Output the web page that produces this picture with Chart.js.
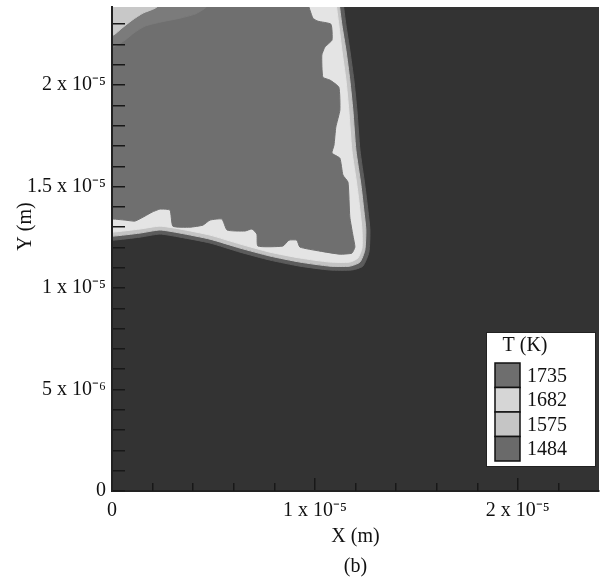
<!DOCTYPE html>
<html lang="en">
<head>
<meta charset="UTF-8">
<title>T (K) - (b)</title>
<script src="https://cdn.jsdelivr.net/npm/chart.js"></script>
<style>
  html, body { margin: 0; padding: 0; background: #ffffff; }
</style>
</head>
<body>
<canvas id="contour" width="608" height="581"></canvas>
<script>
// all coordinates in micrometres (1e-6 m)
var tempLevels = [1735, 1682, 1575, 1484];
var levelColors = ['#6e6e6e', '#d6d6d6', '#c5c5c5', '#6a6a6a'];

var xTickValues = [0, 10, 20];
var xTickLabels = ['0', '1 x 10\u207B\u2075', '2 x 10\u207B\u2075'];
var xMinorTicks = [2, 4, 6, 8, 12, 14, 16, 18, 22];
var yTickValues = [0, 5, 10, 15, 20];
var yTickLabels = ['0', '5 x 10\u207B\u2076', '1 x 10\u207B\u2075', '1.5 x 10\u207B\u2075', '2 x 10\u207B\u2075'];

// contour boundaries (x, y), each closed through the top-left corner
var outerFront = [[-1, 12.36], [0.05, 12.36], [1.38, 12.51], [2.36, 12.66], [3.35, 12.51], [4.83, 12.22],
  [6.31, 11.77], [7.78, 11.38], [9.26, 11.08], [10.74, 10.89], [11.82, 10.89], [12.36, 11.08], [12.66, 11.77],
  [12.71, 12.86], [12.61, 13.84], [12.46, 15.07], [12.22, 16.80], [12.07, 18.77], [11.92, 20.25], [11.72, 21.72],
  [11.53, 22.96], [11.38, 24.19], [11.38, 25], [-1, 25]];
var midFront = [[-1, 12.56], [0.05, 12.56], [1.38, 12.71], [2.36, 12.86], [3.35, 12.71], [4.83, 12.41],
  [6.31, 11.97], [7.78, 11.58], [9.26, 11.28], [10.74, 11.08], [11.72, 11.08], [12.22, 11.28], [12.46, 11.87],
  [12.51, 12.86], [12.41, 13.84], [12.27, 15.07], [12.02, 16.80], [11.87, 18.77], [11.72, 20.25], [11.53, 21.72],
  [11.33, 22.96], [11.18, 24.19], [11.18, 25], [-1, 25]];
var lightFront = [[-1, 12.76], [0.05, 12.76], [1.38, 12.91], [2.36, 13.05], [3.35, 12.91], [4.83, 12.61],
  [6.31, 12.17], [7.78, 11.77], [9.26, 11.48], [10.74, 11.28], [11.72, 11.28], [12.12, 11.48], [12.32, 11.97],
  [12.32, 12.86], [12.22, 13.84], [12.07, 15.07], [11.82, 16.80], [11.67, 18.77], [11.53, 20.25], [11.33, 21.72],
  [11.18, 22.96], [11.03, 24.19], [11.03, 25], [-1, 25]];
var coreFront = [[-1, 13.4], [0.05, 13.4], [0.64, 13.35], [1.13, 13.30], [1.63, 13.55], [1.97, 13.74],
  [2.36, 13.89], [2.86, 13.84], [3.00, 13.05], [3.84, 13.00], [4.48, 13.10], [4.83, 13.35], [5.42, 13.40],
  [5.67, 12.86], [6.55, 12.81], [6.90, 12.91], [7.14, 12.66], [7.19, 12.07], [8.42, 12.07], [8.72, 12.36],
  [9.11, 12.36], [9.26, 12.02], [10.25, 11.82], [11.23, 11.67], [11.82, 11.72], [11.97, 12.02], [11.87, 12.61],
  [11.72, 13.50], [11.63, 15.22], [11.38, 15.57], [11.23, 16.40], [10.84, 16.65], [10.94, 17.04], [11.03, 17.93],
  [11.23, 18.77], [11.18, 19.90], [10.74, 20.25], [10.39, 20.39], [10.34, 21.48], [10.49, 21.87], [10.84, 22.22],
  [10.79, 23.00], [10.15, 23.15], [9.90, 23.30], [9.61, 24.19], [9.61, 25], [-1, 25]];
var cornerMid = [[-1, 21.82], [0.05, 21.87], [0.64, 22.22], [1.13, 22.61], [1.63, 22.91], [2.36, 23.10],
  [3.35, 23.30], [4.09, 23.50], [4.58, 23.79], [4.93, 24.19], [5.02, 25], [-1, 25]];
var cornerLight = [[-1, 22.41], [0.05, 22.46], [0.49, 22.81], [0.99, 23.20], [1.53, 23.55], [2.12, 23.79],
  [2.61, 24.19], [2.76, 25], [-1, 25]];

var serif = "'Liberation Serif', 'Times New Roman', serif";

// top layer first
var bands = [
  { pts: cornerLight, color: '#c8c8c8', tension: 0.2 },
  { pts: cornerMid, color: '#7b7b7b', tension: 0.2 },
  { pts: coreFront, color: '#6f6f6f', tension: 0.15 },
  { pts: lightFront, color: '#e4e4e4', tension: 0.2 },
  { pts: midFront, color: '#c4c4c4', tension: 0.2 },
  { pts: outerFront, color: '#5c5c5c', tension: 0.2 }
];

var datasets = bands.map(function (b) {
  return {
    data: b.pts.map(function (p) { return { x: p[0], y: p[1] }; }),
    showLine: true,
    fill: 'shape',
    backgroundColor: b.color,
    borderColor: b.color,
    borderWidth: 1,
    pointRadius: 0,
    tension: b.tension
  };
});

var plotBackground = {
  id: 'plotBackground',
  beforeDatasetsDraw: function (chart) {
    var a = chart.chartArea, ctx = chart.ctx;
    ctx.save();
    ctx.fillStyle = '#333333';
    ctx.fillRect(a.left, a.top, a.right - a.left, a.bottom - a.top);
    ctx.restore();
  }
};

var levelLegend = {
  id: 'levelLegend',
  afterDraw: function (chart) {
    var a = chart.chartArea, ctx = chart.ctx;
    var w = 110, h = 135, rowH = 24.5;
    var left = a.right - 3 - w, top = a.bottom - 24 - h;
    ctx.save();
    ctx.fillStyle = '#ffffff';
    ctx.fillRect(left, top, w, h);
    ctx.strokeStyle = '#222222';
    ctx.lineWidth = 1;
    ctx.strokeRect(left + 0.5, top + 0.5, w - 1, h - 1);
    ctx.fillStyle = '#111111';
    ctx.font = '20px ' + serif;
    ctx.textAlign = 'center';
    ctx.textBaseline = 'middle';
    ctx.fillText('T (K)', left + 39, top + 14);
    ctx.textAlign = 'left';
    tempLevels.forEach(function (t, i) {
      var y = top + 31 + i * rowH;
      ctx.fillStyle = levelColors[i];
      ctx.fillRect(left + 9, y, 25, rowH);
      ctx.strokeStyle = '#111111';
      ctx.lineWidth = 1.5;
      ctx.strokeRect(left + 9, y, 25, rowH);
      ctx.fillStyle = '#111111';
      ctx.fillText(String(t), left + 41, y + rowH / 2 + 1);
    });
    ctx.textAlign = 'center';
    ctx.fillText('(b)', (a.left + a.right) / 2, 567);
    ctx.restore();
  }
};

function noPad(s) { s.paddingTop = 0; s.paddingBottom = 0; s.paddingLeft = 0; s.paddingRight = 0; }

new Chart(document.getElementById('contour'), {
  type: 'scatter',
  data: { datasets: datasets },
  options: {
    responsive: false,
    animation: false,
    events: [],
    layout: { padding: { top: 7, right: 9, left: 0, bottom: 0 } },
    plugins: { legend: { display: false }, tooltip: { enabled: false } },
    scales: {
      x: {
        type: 'linear', position: 'bottom', min: 0, max: 24, weight: 1,
        afterFit: function (s) { s.height = 90; noPad(s); },
        afterBuildTicks: function (s) { s.ticks = xTickValues.map(function (v) { return { value: v }; }); },
        ticks: {
          z: 1, padding: 21, color: '#111111', font: { family: serif, size: 20 },
          autoSkip: false, maxRotation: 0,
          callback: function (v) { var i = xTickValues.indexOf(v); return i < 0 ? '' : xTickLabels[i]; }
        },
        grid: { z: 1, drawOnChartArea: false, tickLength: -13, color: '#181818', lineWidth: 1.5 },
        border: { z: 1, display: true, color: '#222222', width: 2 },
        title: { display: true, text: 'X (m)', color: '#111111', font: { family: serif, size: 20 }, padding: { top: 0, bottom: 32 } }
      },
      xMinor: {
        type: 'linear', position: 'bottom', min: 0, max: 24, weight: 0,
        afterFit: function (s) { s.height = 0; noPad(s); },
        afterBuildTicks: function (s) { s.ticks = xMinorTicks.map(function (v) { return { value: v }; }); },
        ticks: { z: 1, callback: function () { return ''; }, autoSkip: false, padding: 0 },
        grid: { z: 1, drawOnChartArea: false, tickLength: -8, color: '#181818', lineWidth: 1.5 },
        border: { display: false }
      },
      y: {
        type: 'linear', position: 'left', min: 0, max: 23.85,
        afterFit: function (s) { s.width = 112; noPad(s); },
        afterBuildTicks: function (s) {
          var t = [];
          for (var v = 0; v <= 23; v++) t.push({ value: v });
          s.ticks = t;
        },
        ticks: {
          z: 1, padding: 19, color: '#111111', font: { family: serif, size: 20 }, autoSkip: false,
          callback: function (v) { var i = yTickValues.indexOf(v); return i < 0 ? '' : yTickLabels[i]; }
        },
        grid: { z: 1, drawOnChartArea: false, tickLength: -13, color: '#181818', lineWidth: 1.5 },
        border: { z: 1, display: true, color: '#222222', width: 2 },
        title: { display: true, text: '         Y (m)', color: '#111111', font: { family: serif, size: 20 }, padding: { top: 14, bottom: 0 } }
      }
    }
  },
  plugins: [plotBackground, levelLegend]
});
</script>
</body>
</html>
